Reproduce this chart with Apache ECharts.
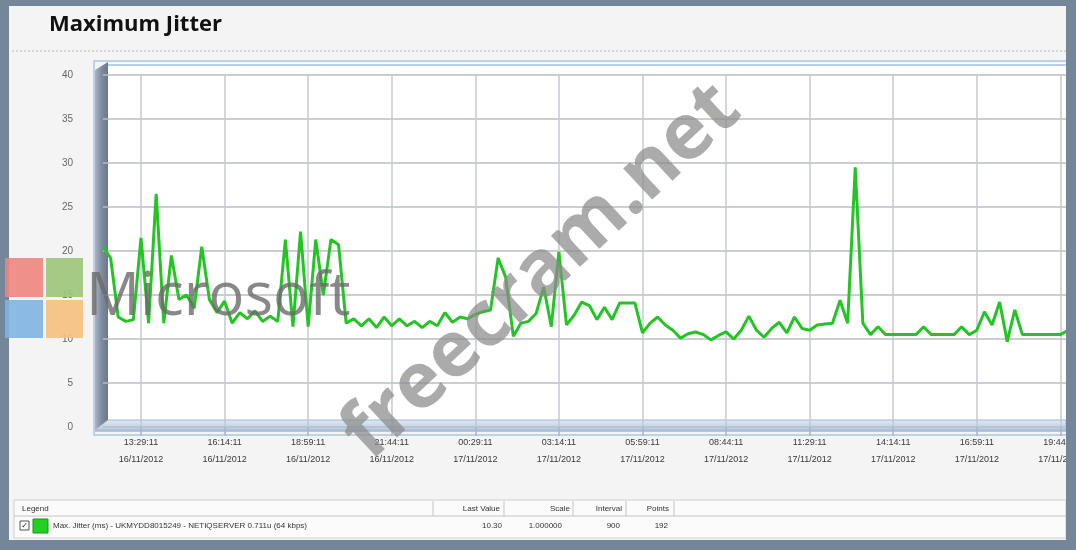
<!DOCTYPE html>
<html>
<head>
<meta charset="utf-8">
<script src="https://cdn.jsdelivr.net/npm/echarts@6/dist/echarts.min.js"></script>
<style>
html,body{margin:0;padding:0;background:#74879a;}
#chart{width:1076px;height:550px;}
</style>
</head>
<body>
<div id="chart"></div>
<script>
// ---- data ----
const chartTitle = 'Maximum Jitter';
const startDay = 16, startMonth = 11, startYear = 2012;
const startMinutes = 12 * 60 + 14;   // 12:14:11
const startSeconds = 11;
const stepMinutes = 15;               // interval 900 s
const firstLabelIndex = 5;            // 13:29:11
const labelEvery = 11;                // every 2h45m

const jitterValues = [
  20.5, 19.2, 12.5, 12.0, 12.2, 21.5, 11.8, 26.5, 11.8, 19.5,
  14.5, 15.0, 13.5, 20.5, 14.5, 13.0, 14.3, 11.8, 13.0, 12.3,
  13.2, 12.0, 12.6, 12.0, 21.3, 11.4, 22.2, 11.4, 21.3, 15.0,
  21.3, 20.7, 11.8, 12.3, 11.5, 12.3, 11.3, 12.5, 11.5, 12.3,
  11.5, 12.0, 11.3, 12.0, 11.5, 13.0, 11.9, 12.5, 12.3, 12.8,
  13.1, 13.3, 19.2, 17.0, 10.3, 11.8, 12.0, 12.9, 15.9, 11.4,
  19.9, 11.6, 12.7, 14.2, 13.8, 12.2, 13.6, 12.2, 14.1, 14.1,
  14.1, 10.7, 11.8, 12.5, 11.6, 11.0, 10.1, 10.6, 10.8, 10.5,
  9.9, 10.4, 10.8, 10.0, 11.0, 12.6, 11.0, 10.2, 11.2, 11.9,
  10.7, 12.5, 11.2, 11.0, 11.6, 11.7, 11.8, 14.4, 11.8, 29.5,
  11.8, 10.5, 11.4, 10.5, 10.5, 10.5, 10.5, 10.5, 11.4, 10.5,
  10.5, 10.5, 10.5, 11.4, 10.5, 11.0, 13.1, 11.6, 14.2, 9.7,
  13.3, 10.5, 10.5, 10.5, 10.5, 10.5, 10.5, 11.0
];

const yTicks = { min: 0, max: 40, interval: 5 };

const legendHeaders = ['Legend', 'Last Value', 'Scale', 'Interval', 'Points'];
const legendSeriesName = 'Max. Jitter (ms) - UKMYDD8015249 - NETIQSERVER 0.711u (64 kbps)';
const legendRowValues = ['10.30', '1.000000', '900', '192'];

// ---- categories (timestamps every 15 minutes) ----
function pad(n) { return (n < 10 ? '0' : '') + n; }
const categories = jitterValues.map(function (_, i) {
  const total = startMinutes + stepMinutes * i;
  const day = startDay + Math.floor(total / 1440);
  const m = total % 1440;
  return pad(Math.floor(m / 60)) + ':' + pad(m % 60) + ':' + pad(startSeconds) +
    '\n' + pad(day) + '/' + pad(startMonth) + '/' + startYear;
});
function showTick(i) { return i >= firstLabelIndex && (i - firstLabelIndex) % labelEvery === 0; }

const chart = echarts.init(document.getElementById('chart'), null, { renderer: 'canvas' });

const PI = Math.PI;
const F8 = '8px "Liberation Sans", sans-serif';
const graphics = [
  // inner panel
  { type: 'rect', z: -20, shape: { x: 9, y: 6, width: 1057, height: 534 }, style: { fill: '#f4f4f4' } },
  // title separator
  { type: 'line', z: -19, shape: { x1: 12, y1: 51, x2: 1066, y2: 51 }, style: { stroke: '#d6d6d6', lineWidth: 2, lineDash: [2, 2] } },
  // plot white area
  { type: 'rect', z: -18, shape: { x: 105, y: 63, width: 961, height: 358 }, style: { fill: '#ffffff' } },
  // 3D frame outline
  { type: 'rect', z: -17, shape: { x: 94, y: 61, width: 976, height: 374 }, style: { fill: 'none', stroke: '#aac6e4', lineWidth: 1.5 } },
  { type: 'line', z: -17, shape: { x1: 108, y1: 65, x2: 1066, y2: 65 }, style: { stroke: '#b8d0ea', lineWidth: 2 } },
  // left wall
  { type: 'polygon', z: -16, shape: { points: [[95, 70], [108, 62], [108, 421], [95, 430]] },
    style: { fill: new echarts.graphic.LinearGradient(0, 0, 1, 0, [{ offset: 0, color: '#aab4c2' }, { offset: 0.5, color: '#7f8ca0' }, { offset: 1, color: '#6a788c' }]) } },
  // floor
  { type: 'polygon', z: -16, shape: { points: [[95, 430], [108, 420], [1066, 420], [1066, 430]] },
    style: { fill: new echarts.graphic.LinearGradient(0, 0, 0, 1, [{ offset: 0, color: '#e2ebf5' }, { offset: 1, color: '#b8c9de' }]), stroke: '#9fb8d4', lineWidth: 1 } },
  { type: 'line', z: -15, shape: { x1: 95, y1: 431, x2: 1066, y2: 431 }, style: { stroke: '#9fb8d4', lineWidth: 1.5 } },

  // title
  { type: 'text', z: 5, x: 49, y: 25, style: { text: chartTitle, font: 'bold 22px "Open Sans", "Noto Sans", sans-serif', fill: '#111', textVerticalAlign: 'middle' } },

  // legend table
  { type: 'rect', z: -14, shape: { x: 14, y: 500, width: 1052, height: 38 }, style: { fill: '#fbfbfb', stroke: '#cfcfcf', lineWidth: 1 } },
  { type: 'line', z: -13, shape: { x1: 14, y1: 516, x2: 1066, y2: 516 }, style: { stroke: '#c4c4c4', lineWidth: 1 } },
  { type: 'line', z: -13, shape: { x1: 433, y1: 501, x2: 433, y2: 516 }, style: { stroke: '#c4c4c4', lineWidth: 1 } },
  { type: 'line', z: -13, shape: { x1: 504, y1: 501, x2: 504, y2: 516 }, style: { stroke: '#c4c4c4', lineWidth: 1 } },
  { type: 'line', z: -13, shape: { x1: 573, y1: 501, x2: 573, y2: 516 }, style: { stroke: '#c4c4c4', lineWidth: 1 } },
  { type: 'line', z: -13, shape: { x1: 626, y1: 501, x2: 626, y2: 516 }, style: { stroke: '#c4c4c4', lineWidth: 1 } },
  { type: 'line', z: -13, shape: { x1: 674, y1: 501, x2: 674, y2: 516 }, style: { stroke: '#c4c4c4', lineWidth: 1 } },
  { type: 'text', z: 5, x: 22, y: 509, style: { text: legendHeaders[0], font: F8, fill: '#333', textVerticalAlign: 'middle' } },
  { type: 'text', z: 5, x: 500, y: 509, style: { text: legendHeaders[1], font: F8, fill: '#333', textAlign: 'right', textVerticalAlign: 'middle' } },
  { type: 'text', z: 5, x: 570, y: 509, style: { text: legendHeaders[2], font: F8, fill: '#333', textAlign: 'right', textVerticalAlign: 'middle' } },
  { type: 'text', z: 5, x: 622, y: 509, style: { text: legendHeaders[3], font: F8, fill: '#333', textAlign: 'right', textVerticalAlign: 'middle' } },
  { type: 'text', z: 5, x: 669, y: 509, style: { text: legendHeaders[4], font: F8, fill: '#333', textAlign: 'right', textVerticalAlign: 'middle' } },
  { type: 'rect', z: 5, shape: { x: 20, y: 521, width: 9, height: 9 }, style: { fill: '#fff', stroke: '#555', lineWidth: 1 } },
  { type: 'text', z: 6, x: 24.5, y: 526, style: { text: '✓', font: 'bold 8px "DejaVu Sans", sans-serif', fill: '#222', textAlign: 'center', textVerticalAlign: 'middle' } },
  { type: 'rect', z: 5, shape: { x: 33, y: 519, width: 15, height: 14 }, style: { fill: '#22d022', stroke: '#119911', lineWidth: 1 } },
  { type: 'text', z: 5, x: 53, y: 526, style: { text: legendSeriesName, font: F8, fill: '#333', textVerticalAlign: 'middle' } },
  { type: 'text', z: 5, x: 502, y: 526, style: { text: legendRowValues[0], font: F8, fill: '#333', textAlign: 'right', textVerticalAlign: 'middle' } },
  { type: 'text', z: 5, x: 562, y: 526, style: { text: legendRowValues[1], font: F8, fill: '#333', textAlign: 'right', textVerticalAlign: 'middle' } },
  { type: 'text', z: 5, x: 620, y: 526, style: { text: legendRowValues[2], font: F8, fill: '#333', textAlign: 'right', textVerticalAlign: 'middle' } },
  { type: 'text', z: 5, x: 668, y: 526, style: { text: legendRowValues[3], font: F8, fill: '#333', textAlign: 'right', textVerticalAlign: 'middle' } },

  // outer slate border on top (clips right side like the screenshot)
  { type: 'rect', z: 30, shape: { x: 1066, y: 0, width: 10, height: 550 }, style: { fill: '#74879a' } },
  { type: 'rect', z: 30, shape: { x: 0, y: 540, width: 1076, height: 10 }, style: { fill: '#74879a' } },

  // watermarks
  { type: 'rect', z: 40, shape: { x: 5, y: 258, width: 38, height: 39 }, style: { fill: '#ee8580', opacity: 0.9 } },
  { type: 'rect', z: 40, shape: { x: 46, y: 258, width: 37, height: 39 }, style: { fill: '#9cc57a', opacity: 0.9 } },
  { type: 'rect', z: 40, shape: { x: 5, y: 300, width: 38, height: 38 }, style: { fill: '#7fb4e2', opacity: 0.9 } },
  { type: 'rect', z: 40, shape: { x: 46, y: 300, width: 37, height: 38 }, style: { fill: '#f6c07e', opacity: 0.9 } },
  { type: 'text', z: 40, x: 86, y: 298, style: { text: 'Microsoft', font: '60px "Open Sans", sans-serif', fill: '#6a6a6a', opacity: 0.8, textVerticalAlign: 'middle' } },
  { type: 'text', z: 40, x: 542, y: 272, rotation: 43 * PI / 180, style: { text: 'freecram.net', font: 'bold 78px "Open Sans", sans-serif', fill: '#8a8a8a', opacity: 0.72, textAlign: 'center', textVerticalAlign: 'middle' } }
];

const option = {
  backgroundColor: '#74879a',
  animation: false,
  graphic: graphics,
  grid: { left: 103, right: 8, top: 75, height: 352, show: false, containLabel: false, outerBoundsMode: 'none' },
  xAxis: {
    type: 'category',
    data: categories,
    boundaryGap: false,
    axisLine: { show: false },
    axisTick: { show: true, interval: function (i) { return showTick(i); }, length: 9, lineStyle: { color: '#9fb8d4', width: 1.5 } },
    axisLabel: {
      interval: function (i) { return showTick(i); },
      fontSize: 9, lineHeight: 17, color: '#3a3a3a', margin: 7,
      fontFamily: '"Liberation Sans", Arial, sans-serif'
    },
    splitLine: { show: true, interval: function (i) { return showTick(i); }, lineStyle: { color: '#c3c9d3', width: 1.5 } }
  },
  yAxis: {
    type: 'value',
    min: yTicks.min, max: yTicks.max, interval: yTicks.interval,
    axisLine: { show: false },
    axisTick: { show: false },
    axisLabel: { color: '#666', fontSize: 10, margin: 30, fontFamily: '"Liberation Sans", Arial, sans-serif' },
    splitLine: { show: true, lineStyle: { color: '#b9bcc2', width: 1.5 } }
  },
  series: [{
    type: 'line',
    name: legendSeriesName,
    data: jitterValues,
    showSymbol: false,
    symbol: 'none',
    z: 3,
    lineStyle: { color: '#25c425', width: 3 },
    itemStyle: { color: '#25c425' }
  }]
};
chart.setOption(option);
</script>
</body>
</html>
